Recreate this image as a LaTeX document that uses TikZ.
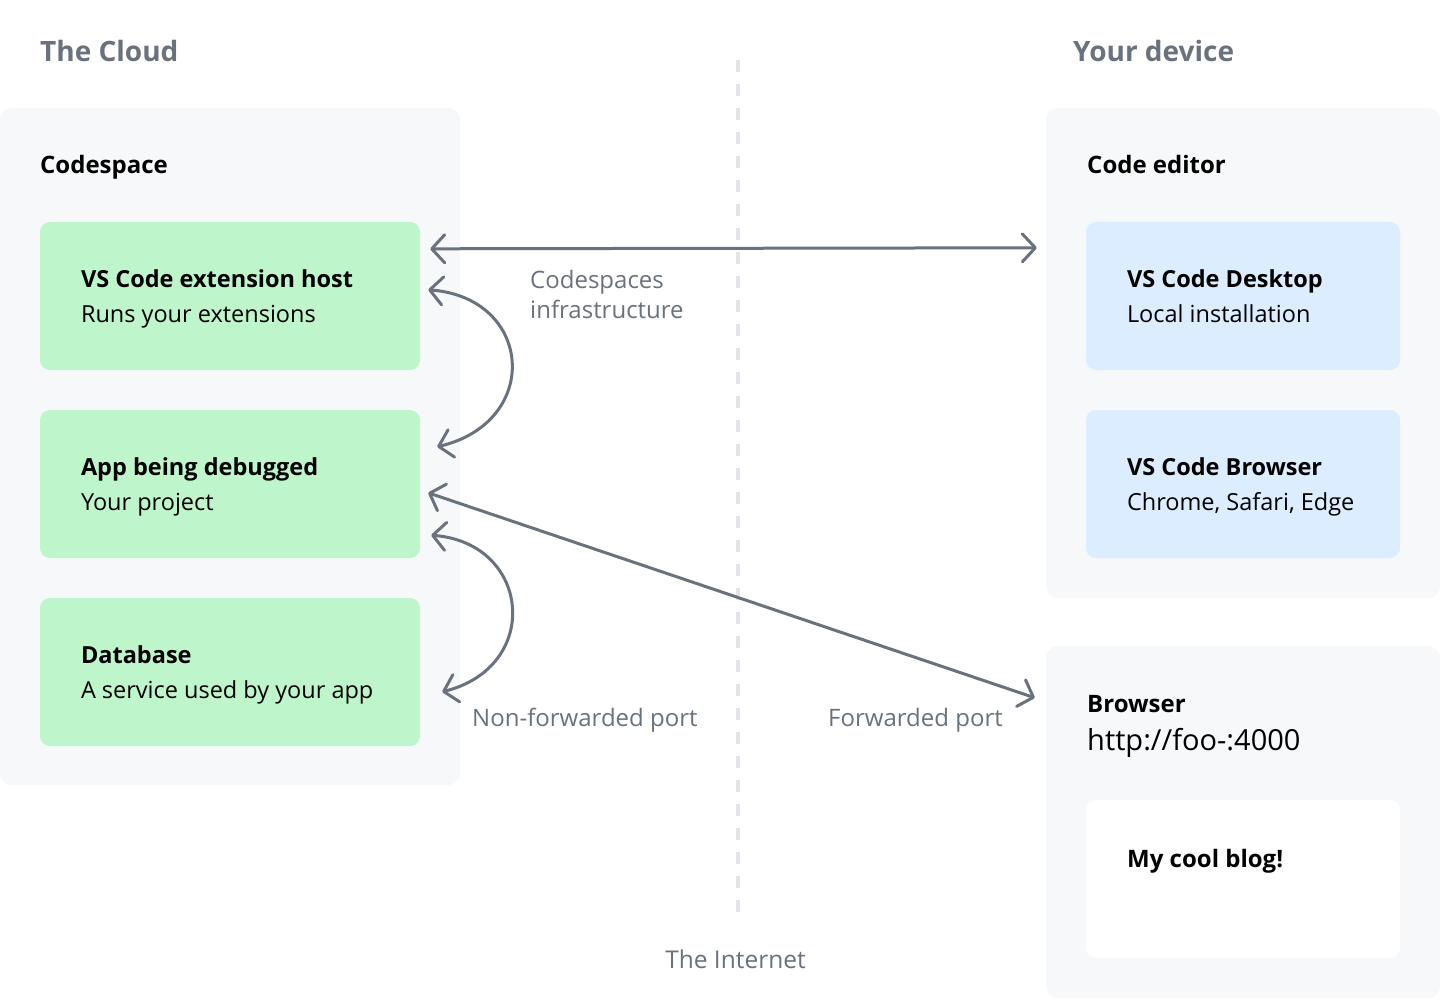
\documentclass[tikz,border=0pt]{standalone}
\usepackage{fontspec}
\setmainfont{Open Sans}
\usetikzlibrary{calc}
\usetikzlibrary{arrows.meta}
\usetikzlibrary{positioning}

\definecolor{panelgray}{HTML}{F6F8FA}
\definecolor{cardgreen}{HTML}{BEF5CB}
\definecolor{cardblue}{HTML}{DBEDFF}
\definecolor{textgray}{HTML}{6A737D}
\definecolor{linegray}{HTML}{E1E4E8}

\tikzset{
  panel/.style={fill=panelgray, rounded corners=12, inner sep=0},
  card/.style={rounded corners=10, inner sep=0, minimum height=148},
  cardtext/.style={anchor=base west, align=left, inner sep=0, xshift=41pt, yshift=-26pt, font=\fontsize{23.5}{35}\selectfont},
  heading/.style={anchor=base west, inner sep=0, text=textgray, font=\fontsize{28}{34}\selectfont\bfseries},
  boxtitle/.style={anchor=base west, inner sep=0, font=\fontsize{24}{30}\selectfont\bfseries},
  note/.style={anchor=base west, inner sep=0, align=left, text=textgray, font=\fontsize{24}{30}\selectfont},
  link/.style={draw=textgray, line width=3, line cap=round,
    {Straight Barb[length=13pt,width=28pt,round]}-{Straight Barb[length=13pt,width=28pt,round]}}
}

\begin{document}
\begin{tikzpicture}[x=1pt, y=-1pt]
  \useasboundingbox[fill=white] (0,0) rectangle (1440,1000);

  % Panels
  \node[panel, minimum width=460, minimum height=677] (cloud)   at (230,446.5) {};
  \node[panel, minimum width=394, minimum height=490] (editor)  at (1243,353)  {};
  \node[panel, minimum width=394, minimum height=352] (browser) at (1243,822)  {};

  % The Internet
  \draw[linegray, line width=4, dash pattern=on 12 off 12] (738,60) coordinate (nettop) -- (738,917) coordinate (netbot);
  \node[note, anchor=base, font=\fontsize{24.5}{30}\selectfont] (internet) at (735.5,968) {The Internet};

  % Headings
  \node[heading] (cloudlabel)  at (40,62)   {The Cloud};
  \node[heading] (devicelabel) at (1073,62) {Your device};
  \node[boxtitle] (codespace)  at (40,174)  {Codespace};
  \node[boxtitle] (editorlabel) at (1087,174) {Code editor};

  % Codespace cards
  \node[card, fill=cardgreen, minimum width=380] (ext) at (230,296) {};
  \node[card, fill=cardgreen, minimum width=380] (app) at (230,484) {};
  \node[card, fill=cardgreen, minimum width=380] (db)  at (230,672) {};
  \node[cardtext] (exttext) at (ext.west) {\textbf{VS Code extension host}\\Runs your extensions};
  \node[cardtext] (apptext) at (app.west) {\textbf{App being debugged}\\Your project};
  \node[cardtext] (dbtext)  at (db.west)  {\textbf{Database}\\A service used by your app};

  % Editor cards
  \node[card, fill=cardblue, minimum width=314] (desktop) at (1243,296) {};
  \node[card, fill=cardblue, minimum width=314] (web)     at (1243,484) {};
  \node[cardtext] (desktoptext) at (desktop.west) {\textbf{VS Code Desktop}\\Local installation};
  \node[cardtext] (webtext)     at (web.west)     {\textbf{VS Code Browser}\\Chrome, Safari, Edge};

  % Browser
  \node[boxtitle] (browserlabel) at (1087,712) {Browser};
  \node[anchor=base west, inner sep=0, font=\fontsize{29}{34}\selectfont] (url) at (1087,750) {http://foo-:4000};
  \node[card, fill=white, minimum width=314, minimum height=158] (blog) at (1243,879) {};
  \node[boxtitle] (blogtext) at (1127,867) {My cool blog!};

  % Connectors
  \draw[link] ($(ext.north east)+(10,27)$) -- ($(editor.north west)+(-9,140)$);
  \draw[link] ($(ext.north east)+(8,68)$) .. controls +(105,8) and +(105,-25) .. ($(app.north east)+(17,37)$);
  \draw[link] ($(app.south east)+(11,-23)$) .. controls +(100,8) and +(100,-25) .. ($(db.north east)+(22,94)$);
  \draw[link] ($(app.north east)+(8,83)$) -- ($(browser.north west)+(-11,52)$);

  % Labels
  \node[note] (infra) at (530,319) {Codespaces\\infrastructure};
  \node[note] (nonfwd) at (472,726) {Non-forwarded port};
  \node[note] (fwd) at (828,726) {Forwarded port};
\end{tikzpicture}
\end{document}
